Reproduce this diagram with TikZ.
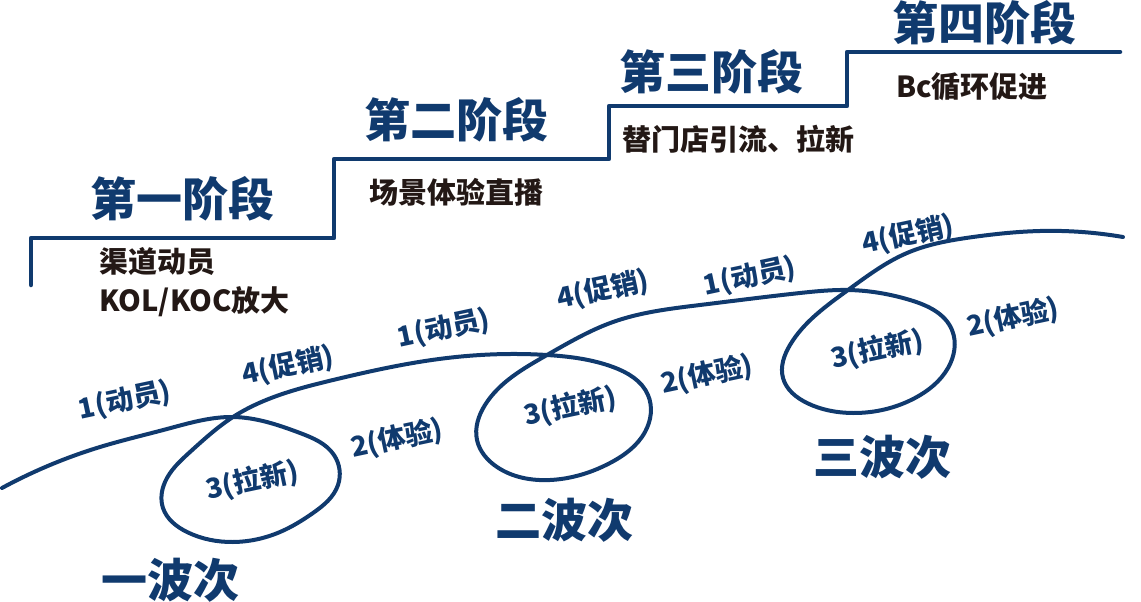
\documentclass[tikz,border=0pt]{standalone}
\usepackage{fontspec}
\setmainfont{Noto Sans CJK SC}
\usetikzlibrary{hobby}
\definecolor{navy}{RGB}{16,58,110}
\definecolor{ink}{RGB}{35,24,21}
\begin{document}
\begin{tikzpicture}[x=1pt,y=-1pt,
  title/.style={font=\bfseries\fontsize{46}{46}\selectfont, text=navy, inner sep=0pt},
  desc/.style={font=\bfseries\fontsize{29}{29}\selectfont, text=ink, inner sep=0pt, anchor=west},
  lab/.style={font=\bfseries\fontsize{27.5}{27.5}\selectfont, text=navy, inner sep=0pt, rotate=12},
  stair/.style={navy, line width=4.5pt, line cap=round, line join=round},
  wavecurve/.style={navy, line width=4pt, line cap=round, use Hobby shortcut}]
\useasboundingbox (0,0) rectangle (1141,602);

% staircase
\coordinate (a0) at (31,285);
\coordinate (a1) at (31,238);
\coordinate (a2) at (334,238);
\coordinate (a3) at (334,159);
\coordinate (a4) at (609,159);
\coordinate (a5) at (609,106);
\coordinate (a6) at (847,106);
\coordinate (a7) at (847,52);
\coordinate (a8) at (1120,52);
\draw[stair] (a0) -- (a1) -- (a2) -- (a3) -- (a4) -- (a5) -- (a6) -- (a7) -- (a8);

% stage titles and descriptions
\node[title] (s1) at (182,199) {第一阶段};
\node[title] (s2) at (456,120) {第二阶段};
\node[title] (s3) at (711,72) {第三阶段};
\node[title] (s4) at (984,23) {第四阶段};
\node[desc] (d1a) at (99,262) {渠道动员};
\node[desc] (d1b) at (99,302) {KOL/KOC放大};
\node[desc] (d2) at (369,192) {场景体验直播};
\node[desc] (d3) at (622,139) {替门店引流、拉新};
\node[desc] (d4) at (896,87) {Bc循环促进};

% looping curve
\coordinate (c1) at (233,417);
\coordinate (c2) at (547,355);
\coordinate (c3) at (848,290);
\draw[wavecurve]
  (2,488) .. (100,447) .. (167,429) .. (c1) .. (300,433) .. (334,455) .. (338,485)
  .. (313,513) .. (280,532) .. (233,542) .. (187,532) .. (163,508) .. (165,482)
  .. (190,452) .. (c1) .. (333,380) .. (447,358) .. (c2) .. (613,367) .. (648,395)
  .. (645,432) .. (610,463) .. (550,480) .. (497,467) .. (477,440) .. (485,405)
  .. (c2) .. (613,322) .. (700,305) .. (800,293) .. (c3) .. (910,300) .. (952,330)
  .. (948,368) .. (915,398) .. (853,413) .. (807,403) .. (783,378) .. (790,345)
  .. (c3) .. (907,253) .. (973,237) .. (1040,231) .. (1123,237);

% step labels
\node[lab] (l11) at (125,401) {1(动员)};
\node[lab] (l14) at (288,366) {4(促销)};
\node[lab] (l13) at (252,481) {3(拉新)};
\node[lab] (l12) at (397,439) {2(体验)};
\node[lab] (l21) at (444,329) {1(动员)};
\node[lab] (l24) at (603,290) {4(促销)};
\node[lab] (l23) at (570,407) {3(拉新)};
\node[lab] (l22) at (707,375) {2(体验)};
\node[lab] (l31) at (750,277) {1(动员)};
\node[lab] (l34) at (908,235) {4(促销)};
\node[lab] (l33) at (877,350) {3(拉新)};
\node[lab] (l32) at (1013,318) {2(体验)};

% wave titles
\node[title] (w1) at (170,580) {一波次};
\node[title] (w2) at (564,520) {二波次};
\node[title] (w3) at (882,457) {三波次};
\end{tikzpicture}
\end{document}
